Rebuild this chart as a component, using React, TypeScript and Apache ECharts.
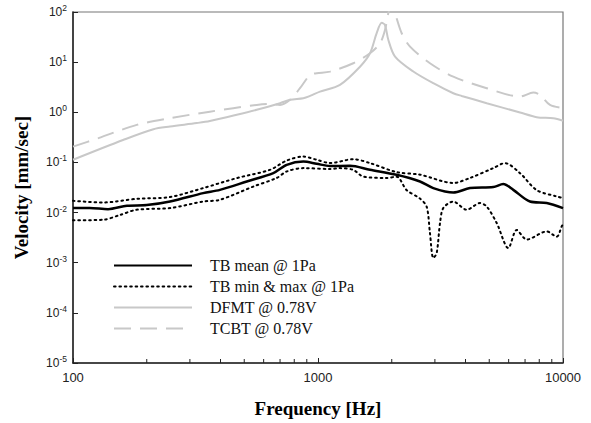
import React, { useEffect, useRef } from "react";
import * as echarts from "echarts";

// ---- Data ----
const tbMeanFreq = [100, 117, 139, 166, 200, 249, 340, 398, 512, 657, 745, 871, 988, 1119, 1351, 1630, 2094, 2608, 2955, 3566, 4173, 5194, 5703, 6268, 7334, 8581, 10000];
const tbMeanVel = [0.0123, 0.0123, 0.0117, 0.0137, 0.0141, 0.0166, 0.0244, 0.0284, 0.0417, 0.0612, 0.0896, 0.104, 0.094, 0.085, 0.0855, 0.0713, 0.0567, 0.0417, 0.0308, 0.0251, 0.0308, 0.0322, 0.037, 0.0284, 0.0166, 0.0155, 0.0123];

const tbMaxFreq = [100, 133, 182, 249, 340, 466, 637, 745, 871, 988, 1119, 1393, 1630, 2094, 2608, 3566, 4173, 5194, 5794, 6676, 7811, 9420, 10000];
const tbMaxVel = [0.0172, 0.0159, 0.0188, 0.0204, 0.0308, 0.0487, 0.0713, 0.109, 0.131, 0.113, 0.097, 0.116, 0.097, 0.064, 0.057, 0.039, 0.049, 0.077, 0.097, 0.061, 0.028, 0.021, 0.0194];

const tbMinFreq = [100, 133, 156, 182, 249, 340, 398, 544, 678, 745, 871, 1119, 1229, 1393, 1531, 1906, 2094, 2301, 2608, 2778, 2864, 2955, 3051, 3148, 3246, 3566, 4046, 4582, 4883, 5363, 5981, 6471, 7112, 8581, 9420, 9878, 10000];
const tbMinVel = [0.007, 0.0072, 0.009, 0.0114, 0.0123, 0.0166, 0.018, 0.033, 0.049, 0.066, 0.077, 0.074, 0.077, 0.071, 0.052, 0.049, 0.052, 0.028, 0.019, 0.013, 0.0039, 0.00124, 0.00156, 0.0062, 0.0123, 0.0166, 0.0114, 0.0155, 0.0132, 0.0062, 0.00196, 0.0045, 0.0029, 0.0042, 0.0033, 0.0053, 0.006];

const dfmtFreq = [100, 160, 213, 249, 320, 362, 466, 562, 700, 769, 871, 928, 1019, 1229, 1484, 1630, 1736, 1820, 1877, 1936, 2063, 2449, 2955, 3566, 3859, 4883, 6676, 7811, 9130, 10000];
const dfmtVel = [0.113, 0.28, 0.46, 0.52, 0.61, 0.67, 0.89, 1.12, 1.52, 1.77, 1.91, 2.12, 2.58, 3.52, 8.1, 15, 38, 61, 55, 28, 12.9, 6.5, 3.8, 2.4, 2.12, 1.52, 0.99, 0.8, 0.76, 0.68];

const tcbtFreq = [100, 127, 182, 249, 362, 562, 637, 700, 769, 844, 928, 988, 1119, 1393, 1630, 1791, 1877, 1936, 2000, 2063, 2196, 2375, 2864, 3566, 4883, 6676, 7565, 8054, 8851, 10000];
const tcbtVel = [0.207, 0.305, 0.561, 0.762, 1.03, 1.4, 1.47, 1.4, 1.77, 3.02, 5.56, 6.01, 6.47, 9.5, 15, 23.8, 43.8, 94, 140, 94, 37.7, 20.4, 9.5, 5.14, 3.02, 2.06, 2.47, 2.22, 1.4, 1.21];

const minorTickFreqs = [200, 300, 400, 500, 600, 700, 800, 900, 2000, 3000, 4000, 5000, 6000, 7000, 8000, 9000];

const seriesNames = ["TB mean @ 1Pa", "TB min & max @ 1Pa", "DFMT @ 0.78V", "TCBT @ 0.78V"];

const X_MIN = 100;
const X_MAX = 10000;
const Y_MIN = 1e-5;
const Y_MAX = 100;

const zip = (xs: number[], ys: number[]) => xs.map((x, i) => [x, ys[i]]);

const SERIF = "'Liberation Serif', 'Times New Roman', serif";
const SANS = "'Liberation Sans', Arial, sans-serif";
const GRAY = "#c8c8c8";

export default function App() {
  const ref = useRef<HTMLDivElement>(null);

  useEffect(() => {
    if (!ref.current) return;
    const chart = echarts.init(ref.current, undefined, { renderer: "svg" });

    const option: any = {
      animation: false,
      backgroundColor: "#ffffff",
      grid: {
        left: 73,
        top: 12,
        right: 28,
        bottom: 60,
        show: true,
        borderColor: "#777777",
        borderWidth: 1.2,
        backgroundColor: "transparent",
      },
      legend: {
        orient: "vertical",
        left: 108,
        top: 250,
        itemWidth: 78,
        itemHeight: 10,
        itemGap: 0,
        data: seriesNames,
        itemStyle: { opacity: 0, borderWidth: 0 },
        textStyle: {
          fontFamily: SERIF,
          fontSize: 16,
          color: "#111",
          lineHeight: 21,
          padding: [0, 0, 0, 13],
        },
      },
      xAxis: {
        type: "log",
        logBase: 10,
        min: X_MIN,
        max: X_MAX,
        name: "Frequency [Hz]",
        nameLocation: "middle",
        nameGap: 36,
        nameTextStyle: { fontFamily: SERIF, fontWeight: "bold", fontSize: 19, color: "#000" },
        axisLine: { show: true, lineStyle: { color: "#222", width: 1.5 } },
        axisTick: { show: true, inside: true, length: 5, lineStyle: { color: "#222", width: 1 } },
        axisLabel: {
          fontFamily: SANS,
          fontSize: 13,
          color: "#222",
          margin: 8,
          formatter: (v: number) => String(Math.round(v)),
        },
        splitLine: { show: false },
      },
      yAxis: {
        type: "log",
        logBase: 10,
        min: Y_MIN,
        max: Y_MAX,
        name: "Velocity [mm/sec]",
        nameLocation: "middle",
        nameRotate: 90,
        nameGap: 42,
        nameTextStyle: { fontFamily: SERIF, fontWeight: "bold", fontSize: 19, color: "#000" },
        axisLine: { show: true, lineStyle: { color: "#222", width: 1.5 } },
        axisTick: { show: true, inside: true, length: 5, lineStyle: { color: "#222", width: 1 } },
        axisLabel: {
          margin: 6,
          formatter: (v: number) => {
            const e = Math.round(Math.log10(v));
            return `{b|10}{s|${e}}`;
          },
          rich: {
            b: { fontFamily: SANS, fontSize: 12, color: "#222" },
            s: { fontFamily: SANS, fontSize: 8.5, color: "#222", padding: [0, 0, 8, 0] },
          },
        },
        splitLine: { show: false },
      },
      series: [
        {
          name: seriesNames[3],
          type: "line",
          data: zip(tcbtFreq, tcbtVel),
          showSymbol: false,
          symbol: "none",
          smooth: 0.3,
          lineStyle: { color: GRAY, width: 2, type: [17, 9] },
          itemStyle: { color: GRAY },
          z: 2,
        },
        {
          name: seriesNames[2],
          type: "line",
          data: zip(dfmtFreq, dfmtVel),
          showSymbol: false,
          symbol: "none",
          smooth: 0.3,
          lineStyle: { color: GRAY, width: 2, type: "solid" },
          itemStyle: { color: GRAY },
          z: 2,
        },
        {
          name: seriesNames[1],
          type: "line",
          data: zip(tbMaxFreq, tbMaxVel),
          showSymbol: false,
          symbol: "none",
          smooth: 0.3,
          lineStyle: { color: "#000", width: 2, type: [1.6, 3.8], cap: "round" },
          itemStyle: { color: "#000" },
          z: 3,
        },
        {
          name: seriesNames[1],
          type: "line",
          data: zip(tbMinFreq, tbMinVel),
          showSymbol: false,
          symbol: "none",
          smooth: 0.3,
          lineStyle: { color: "#000", width: 2, type: [1.6, 3.8], cap: "round" },
          itemStyle: { color: "#000" },
          z: 3,
        },
        {
          name: seriesNames[0],
          type: "line",
          data: zip(tbMeanFreq, tbMeanVel),
          showSymbol: false,
          symbol: "none",
          smooth: 0.3,
          lineStyle: { color: "#000", width: 2.5, type: "solid" },
          itemStyle: { color: "#000" },
          z: 4,
        },
        {
          name: "minorTicks",
          type: "custom",
          silent: true,
          clip: false,
          z: 5,
          data: minorTickFreqs.map((f) => [f, Y_MIN]),
          renderItem: (_params: any, api: any) => {
            const p = api.coord([api.value(0), api.value(1)]);
            return {
              type: "line",
              shape: { x1: p[0], y1: p[1], x2: p[0], y2: p[1] - 4 },
              style: { stroke: "#222", lineWidth: 1 },
            };
          },
        },
      ],
    };

    chart.setOption(option);
    return () => chart.dispose();
  }, []);

  return (
    <div
      ref={ref}
      style={{ position: "fixed", left: 0, top: 0, width: 591, height: 423, background: "#fff" }}
    />
  );
}
